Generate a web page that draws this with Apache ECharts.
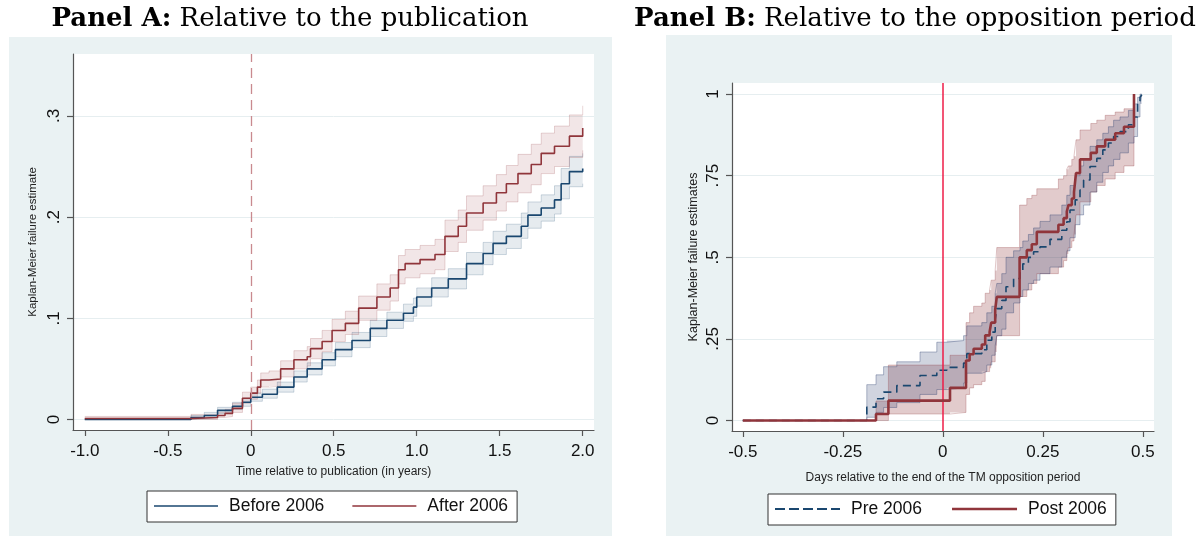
<!DOCTYPE html>
<html>
<head>
<meta charset="utf-8">
<script src="https://cdn.jsdelivr.net/npm/echarts@6/dist/echarts.min.js"></script>
<style>
html,body{margin:0;padding:0;background:#fff;}
#chart{width:1198px;height:536px;}
</style>
</head>
<body>
<div id="chart"></div>
<script>
// Panel A: Kaplan-Meier failure estimates, time relative to publication (years)
const beforeX  = [-1.0,-0.36,-0.28,-0.20,-0.11,-0.05,0.00,0.07,0.16,0.26,0.34,0.43,0.51,0.61,0.72,0.82,0.92,0.98,1.00,1.09,1.19,1.30,1.40,1.46,1.54,1.63,1.67,1.75,1.83,1.87,1.92,2.00];
const beforeKM = [0.000,0.002,0.004,0.009,0.013,0.017,0.022,0.025,0.032,0.042,0.050,0.059,0.069,0.078,0.090,0.098,0.105,0.111,0.121,0.130,0.139,0.154,0.164,0.174,0.181,0.191,0.202,0.209,0.217,0.233,0.245,0.248];
const beforeLo = [0.000,0.001,0.002,0.006,0.010,0.013,0.018,0.021,0.027,0.037,0.044,0.053,0.062,0.071,0.082,0.090,0.097,0.102,0.112,0.121,0.129,0.143,0.153,0.163,0.169,0.179,0.189,0.196,0.203,0.218,0.230,0.233];
const beforeHi = [0.001,0.004,0.007,0.012,0.017,0.021,0.026,0.030,0.037,0.048,0.056,0.066,0.076,0.086,0.098,0.106,0.114,0.120,0.130,0.140,0.149,0.165,0.175,0.186,0.193,0.204,0.215,0.222,0.231,0.248,0.260,0.263];

const afterX  = [-1.0,-0.36,-0.20,-0.155,-0.11,-0.05,0.00,0.04,0.06,0.11,0.18,0.26,0.34,0.36,0.43,0.49,0.57,0.65,0.76,0.84,0.89,0.93,1.02,1.11,1.17,1.25,1.30,1.40,1.48,1.54,1.61,1.69,1.75,1.83,1.92,2.00];
const afterKM = [0.001,0.002,0.004,0.006,0.011,0.021,0.026,0.032,0.039,0.040,0.050,0.059,0.062,0.070,0.077,0.088,0.095,0.110,0.121,0.130,0.148,0.154,0.158,0.163,0.181,0.191,0.204,0.214,0.224,0.233,0.243,0.252,0.263,0.270,0.280,0.288];
const afterLo = [0.000,0.000,0.002,0.003,0.007,0.016,0.020,0.026,0.032,0.033,0.042,0.050,0.053,0.060,0.067,0.077,0.084,0.098,0.108,0.117,0.134,0.140,0.144,0.148,0.166,0.175,0.187,0.197,0.206,0.215,0.224,0.232,0.243,0.250,0.259,0.266];
const afterHi = [0.003,0.005,0.007,0.010,0.016,0.027,0.032,0.039,0.046,0.048,0.058,0.068,0.072,0.080,0.088,0.099,0.107,0.122,0.134,0.143,0.162,0.168,0.172,0.178,0.197,0.207,0.221,0.231,0.242,0.251,0.262,0.272,0.283,0.290,0.301,0.310];

// Panel B: days relative to the end of the TM opposition period
const preX  = [-0.5,-0.19,-0.167,-0.148,-0.115,-0.057,-0.015,0.010,0.052,0.060,0.0975,0.110,0.1225,0.131,0.135,0.1475,0.158,0.177,0.193,0.200,0.214,0.227,0.243,0.268,0.2975,0.310,0.318,0.331,0.343,0.352,0.368,0.385,0.400,0.414,0.427,0.443,0.464,0.478,0.487,0.493,0.4975];
const preKM = [0,0.041,0.067,0.087,0.107,0.138,0.154,0.163,0.176,0.205,0.217,0.246,0.271,0.310,0.343,0.368,0.410,0.435,0.460,0.480,0.500,0.517,0.532,0.555,0.583,0.609,0.645,0.676,0.706,0.737,0.778,0.803,0.829,0.850,0.870,0.885,0.906,0.930,0.977,0.990,0.998];
const preLo = [0,0.010,0.025,0.040,0.055,0.080,0.095,0.100,0.115,0.145,0.150,0.170,0.200,0.230,0.260,0.280,0.330,0.360,0.380,0.400,0.420,0.430,0.450,0.470,0.500,0.520,0.560,0.600,0.630,0.660,0.700,0.730,0.760,0.780,0.800,0.820,0.850,0.870,0.930,0.970,0.998];
const preHi = [0,0.110,0.140,0.165,0.180,0.210,0.240,0.245,0.260,0.290,0.300,0.330,0.350,0.390,0.420,0.450,0.500,0.520,0.530,0.550,0.570,0.590,0.610,0.630,0.660,0.690,0.720,0.750,0.780,0.800,0.840,0.860,0.880,0.900,0.920,0.930,0.950,0.970,0.990,1.000,0.998];

const postX  = [-0.5,-0.167,-0.136,0.018,0.058,0.067,0.077,0.0975,0.106,0.117,0.121,0.131,0.135,0.192,0.210,0.2225,0.235,0.289,0.302,0.310,0.314,0.3225,0.328,0.333,0.343,0.370,0.385,0.406,0.431,0.453,0.478];
const postKM = [0,0.020,0.061,0.100,0.184,0.203,0.220,0.233,0.261,0.271,0.300,0.340,0.379,0.500,0.522,0.540,0.578,0.600,0.620,0.640,0.660,0.680,0.700,0.758,0.800,0.820,0.840,0.860,0.880,0.900,1.000];
const postLo = [0,0.000,0.020,0.025,0.080,0.100,0.110,0.120,0.150,0.160,0.180,0.210,0.260,0.380,0.400,0.420,0.450,0.470,0.490,0.510,0.530,0.550,0.570,0.630,0.670,0.700,0.720,0.740,0.760,0.780,1.000];
const postHi = [0,0.060,0.170,0.200,0.300,0.330,0.350,0.360,0.390,0.400,0.430,0.460,0.530,0.660,0.680,0.690,0.710,0.740,0.750,0.770,0.780,0.800,0.810,0.860,0.890,0.910,0.920,0.935,0.945,0.955,1.000];

// Tick positions and their printed labels
const xTicksA = [-1, -0.5, 0, 0.5, 1, 1.5, 2];
const xLabelsA = ['-1.0', '-0.5', '0', '0.5', '1.0', '1.5', '2.0'];
const yTicksA = [0, 0.1, 0.2, 0.3];
const yLabelsA = ['0', '.1', '.2', '.3'];
const xTicksB = [-0.5, -0.25, 0, 0.25, 0.5];
const xLabelsB = ['-0.5', '-0.25', '0', '0.25', '0.5'];
const yTicksB = [0, 0.25, 0.5, 0.75, 1];
const yLabelsB = ['0', '.25', '.5', '.75', '1'];

const NAVY = '#1a476f';
const MAROON = '#90353b';
const SANS = 'Liberation Sans, Arial, sans-serif';
const SERIF = 'DejaVu Serif, serif';

function labelFor(ticks, labels) {
  return function (v) {
    const i = ticks.findIndex(t => Math.abs(t - v) < 1e-9);
    return i >= 0 ? labels[i] : '';
  };
}

function pairs(xs, ys) { return xs.map((x, i) => [x, ys[i]]); }

// Confidence band as one stepped polygon between the lower and upper bounds
function bandFill(xs, lo, hi, axis, fill, z) {
  return {
    type: 'custom', xAxisIndex: axis, yAxisIndex: axis, silent: true, z: z, clip: true,
    data: xs.map((x, i) => [x, lo[i], hi[i]]),
    encode: { x: 0, y: [1, 2] },
    renderItem: function (params, api) {
      if (params.dataIndex !== 0) return null;
      const top = [], bottom = [];
      for (let i = 0; i < xs.length; i++) {
        const xEnd = i < xs.length - 1 ? xs[i + 1] : xs[i];
        top.push(api.coord([xs[i], hi[i]]), api.coord([xEnd, hi[i]]));
        bottom.push(api.coord([xs[i], lo[i]]), api.coord([xEnd, lo[i]]));
      }
      return { type: 'polygon', shape: { points: top.concat(bottom.reverse()) }, style: { fill: fill } };
    }
  };
}

// Thin stepped outline along one edge of a band
function bandEdge(xs, ys, axis, color, z) {
  return { type: 'line', xAxisIndex: axis, yAxisIndex: axis, step: 'end', symbol: 'none',
           silent: true, z: z, lineStyle: { color: color, width: 1 }, data: pairs(xs, ys) };
}

function xAxisCfg(idx, min, max, ticks, labels, name, gap) {
  return {
    type: 'value', gridIndex: idx, min: min, max: max,
    name: name, nameLocation: 'middle', nameGap: gap,
    nameTextStyle: { fontFamily: SANS, fontSize: 12, color: '#222' },
    axisLine: { show: true, onZero: false, lineStyle: { color: '#555', width: 1.2 } },
    axisTick: { show: true, length: 6, customValues: ticks, lineStyle: { color: '#555', width: 1.2 } },
    axisLabel: { customValues: ticks, formatter: labelFor(ticks, labels), margin: 13,
                 fontFamily: SANS, fontSize: 17, color: '#111' },
    splitLine: { show: false }
  };
}

function yAxisCfg(idx, min, max, ticks, labels, name, gap, nameSize) {
  return {
    type: 'value', gridIndex: idx, min: min, max: max,
    name: name, nameLocation: 'middle', nameGap: gap,
    nameTextStyle: { fontFamily: SANS, fontSize: nameSize, color: '#222' },
    axisLine: { show: true, onZero: false, lineStyle: { color: '#555', width: 1.2 } },
    axisTick: { show: true, length: 6, customValues: ticks, lineStyle: { color: '#555', width: 1.2 } },
    axisLabel: { customValues: ticks, formatter: labelFor(ticks, labels), rotate: 90, margin: 10,
                 fontFamily: SANS, fontSize: 17, color: '#111' },
    splitLine: { show: true, lineStyle: { color: '#e6eef0', width: 1 } }
  };
}

function legendCfg(items, left, top, itemWidth, itemHeight, gap, textPad) {
  return {
    data: items, left: left, top: top, orient: 'horizontal',
    padding: [6, 9, 7, 7], itemWidth: itemWidth, itemHeight: itemHeight, itemGap: gap,
    backgroundColor: '#ffffff', borderColor: '#333', borderWidth: 1, borderRadius: 0,
    textStyle: { fontFamily: SANS, fontSize: 17.5, color: '#111', padding: [0, 0, 0, textPad] }
  };
}

const DASH_ICON = 'path://M0,0h10v2h-10z M14,0h10v2h-10z M28,0h10v2h-10z M42,0h10v2h-10z M56,0h9v2h-9z';

const chart = echarts.init(document.getElementById('chart'), null, { renderer: 'canvas' });

const option = {
  animation: false,
  backgroundColor: '#ffffff',
  graphic: [
    { type: 'rect', z: -10, shape: { x: 9, y: 37, width: 603, height: 499 }, style: { fill: '#eaf2f3' } },
    { type: 'rect', z: -10, shape: { x: 666, y: 35, width: 506, height: 501 }, style: { fill: '#eaf2f3' } }
  ],
  title: [
    { text: '{b|Panel A:} Relative to the publication', left: 290, top: 6, textAlign: 'center', padding: 0,
      textStyle: { fontFamily: SERIF, fontSize: 26, fontWeight: 'normal', color: '#000',
                   rich: { b: { fontFamily: SERIF, fontSize: 26, fontWeight: 'bold', color: '#000' } } } },
    { text: '{b|Panel B:} Relative to the opposition period', left: 915, top: 6, textAlign: 'center', padding: 0,
      textStyle: { fontFamily: SERIF, fontSize: 26, fontWeight: 'normal', color: '#000',
                   rich: { b: { fontFamily: SERIF, fontSize: 26, fontWeight: 'bold', color: '#000' } } } }
  ],
  grid: [
    { left: 73, top: 54, width: 521, height: 376, show: true, backgroundColor: '#ffffff', borderWidth: 0 },
    { left: 732, top: 83, width: 422, height: 348, show: true, backgroundColor: '#ffffff', borderWidth: 0 }
  ],
  xAxis: [
    xAxisCfg(0, -1.071, 2.068, xTicksA, xLabelsA, 'Time relative to publication (in years)', 36),
    xAxisCfg(1, -0.527, 0.528, xTicksB, xLabelsB, 'Days relative to the end of the TM opposition period', 41)
  ],
  yAxis: [
    yAxisCfg(0, -0.0104, 0.3612, yTicksA, yLabelsA, 'Kaplan-Meier failure estimate', 34, 11.5),
    yAxisCfg(1, -0.032, 1.034, yTicksB, yLabelsB, 'Kaplan-Meier failure estimates', 32, 12.5)
  ],
  legend: [
    legendCfg([{ name: 'Before 2006', icon: 'rect' }, { name: 'After 2006', icon: 'rect' }], 147, 491, 64, 1.6, 28, 6),
    legendCfg([{ name: 'Pre 2006', icon: DASH_ICON }, { name: 'Post 2006', icon: 'rect' }], 768, 494, 65, 2.6, 30, 6)
  ],
  series: [
    bandFill(beforeX, beforeLo, beforeHi, 0, 'rgba(26,71,111,0.11)', 1),
    bandFill(afterX, afterLo, afterHi, 0, 'rgba(144,53,59,0.12)', 1),
    bandEdge(beforeX, beforeLo, 0, 'rgba(26,71,111,0.20)', 2),
    bandEdge(beforeX, beforeHi, 0, 'rgba(26,71,111,0.20)', 2),
    bandEdge(afterX, afterLo, 0, 'rgba(144,53,59,0.20)', 2),
    bandEdge(afterX, afterHi, 0, 'rgba(144,53,59,0.20)', 2),
    { type: 'line', name: 'Before 2006', xAxisIndex: 0, yAxisIndex: 0, step: 'end', symbol: 'none', z: 4,
      color: NAVY, lineStyle: { color: NAVY, width: 1.6 }, data: pairs(beforeX, beforeKM) },
    { type: 'line', name: 'After 2006', xAxisIndex: 0, yAxisIndex: 0, step: 'end', symbol: 'none', z: 4,
      color: MAROON, lineStyle: { color: MAROON, width: 1.6 }, data: pairs(afterX, afterKM),
      markLine: { silent: true, symbol: ['none', 'none'], label: { show: false },
                  lineStyle: { color: '#c98a8f', width: 1.3, type: [10, 6] }, data: [{ xAxis: 0 }] } },

    bandFill(postX, postLo, postHi, 1, 'rgba(144,53,59,0.26)', 1),
    bandFill(preX, preLo, preHi, 1, 'rgba(40,60,110,0.22)', 1),
    bandEdge(postX, postLo, 1, 'rgba(144,53,59,0.28)', 2),
    bandEdge(postX, postHi, 1, 'rgba(144,53,59,0.28)', 2),
    bandEdge(preX, preLo, 1, 'rgba(40,60,110,0.35)', 2),
    bandEdge(preX, preHi, 1, 'rgba(40,60,110,0.35)', 2),
    { type: 'line', name: 'Pre 2006', xAxisIndex: 1, yAxisIndex: 1, step: 'end', symbol: 'none', z: 4,
      color: NAVY, lineStyle: { color: NAVY, width: 1.6, type: [8, 5] }, data: pairs(preX, preKM) },
    { type: 'line', name: 'Post 2006', xAxisIndex: 1, yAxisIndex: 1, step: 'end', symbol: 'none', z: 5,
      color: MAROON, lineStyle: { color: MAROON, width: 2.6 }, data: pairs(postX, postKM),
      markLine: { silent: true, symbol: ['none', 'none'], label: { show: false },
                  lineStyle: { color: '#ee1c47', width: 1.5, type: 'solid' }, data: [{ xAxis: 0 }] } }
  ]
};

chart.setOption(option);
</script>
</body>
</html>
